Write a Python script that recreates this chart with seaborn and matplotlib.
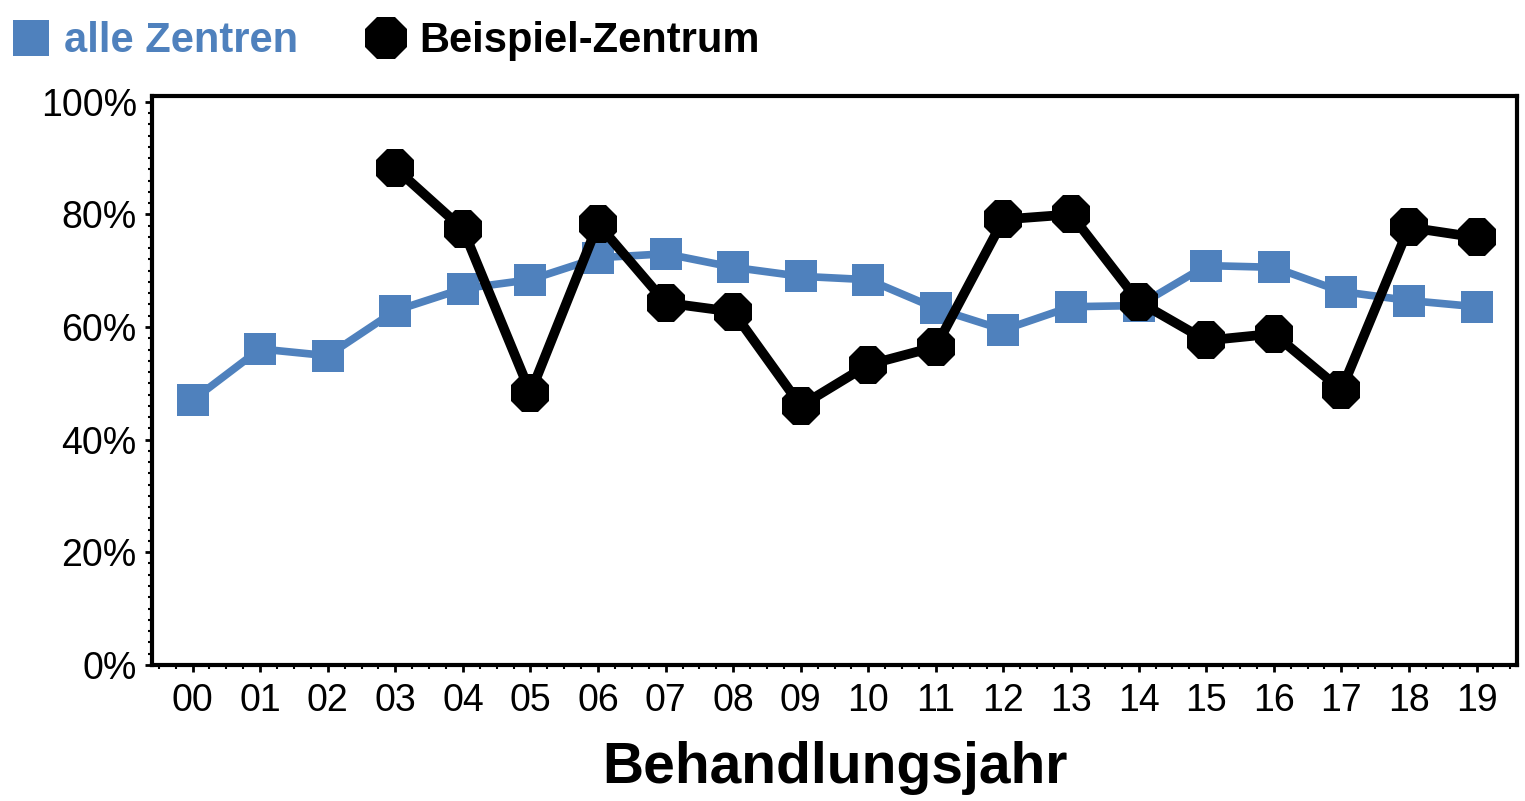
import numpy as np
import pandas as pd
import matplotlib
matplotlib.use("Agg")
import matplotlib.pyplot as plt
from matplotlib.lines import Line2D
from matplotlib.ticker import AutoMinorLocator, FixedLocator, PercentFormatter
import seaborn as sns

# ---------------------------------------------------------------------------
# data (in percent)
# ---------------------------------------------------------------------------
years = ["00", "01", "02", "03", "04", "05", "06", "07", "08", "09",
         "10", "11", "12", "13", "14", "15", "16", "17", "18", "19"]
alle_zentren = [47.0, 56.1, 54.9, 62.9, 66.8, 68.4, 72.3, 73.0, 70.6, 69.0,
                68.4, 63.3, 59.5, 63.6, 63.8, 70.9, 70.6, 66.3, 64.7, 63.6]
beispiel_zentrum = [np.nan, np.nan, np.nan, 88.2, 77.4, 48.3, 78.3, 64.3, 62.7, 46.0,
                    53.3, 56.5, 79.1, 80.0, 64.5, 57.6, 58.8, 48.8, 77.7, 75.9]
series_names = ["alle Zentren", "Beispiel-Zentrum"]
y_ticks = [0, 20, 40, 60, 80, 100]
x_label = "Behandlungsjahr"

BLUE = "#4F81BD"
BLACK = "#000000"

df = pd.DataFrame({
    "jahr": years,
    "pos": np.arange(len(years)),
    series_names[0]: alle_zentren,
    series_names[1]: beispiel_zentrum,
})

# ---------------------------------------------------------------------------
# styling
# ---------------------------------------------------------------------------
sns.set_theme(style="ticks")
plt.rcParams["font.family"] = ["Liberation Sans", "DejaVu Sans"]

fig, ax = plt.subplots(figsize=(15.25, 8.01), dpi=100)
fig.subplots_adjust(left=0.0997, right=0.9948, bottom=0.170, top=0.880)

sns.lineplot(data=df, x="pos", y=series_names[0], ax=ax, color=BLUE,
             linewidth=5.5, marker="s", markersize=23,
             markeredgecolor=BLUE, markeredgewidth=0, zorder=2)
sns.lineplot(data=df.dropna(), x="pos", y=series_names[1], ax=ax, color=BLACK,
             linewidth=7, marker="8", markersize=30,
             markeredgecolor=BLACK, markeredgewidth=0, zorder=3)

ax.set_xlim(-0.6, len(years) - 0.4)
ax.set_ylim(0, 101)

ax.xaxis.set_major_locator(FixedLocator(df["pos"].tolist()))
ax.set_xticklabels(years)
ax.xaxis.set_minor_locator(AutoMinorLocator(4))
ax.yaxis.set_major_locator(FixedLocator(y_ticks))
ax.yaxis.set_major_formatter(PercentFormatter(decimals=0))
ax.yaxis.set_minor_locator(AutoMinorLocator(10))

ax.tick_params(axis="both", which="major", direction="out", length=5,
               width=2, labelsize=27, color=BLACK, labelcolor=BLACK)
ax.tick_params(axis="both", which="minor", direction="out", length=3,
               width=1.5, color=BLACK)
ax.tick_params(axis="y", which="major", pad=6)
ax.tick_params(axis="x", which="major", pad=8)

for sp in ax.spines.values():
    sp.set_visible(True)
    sp.set_linewidth(3)
    sp.set_color(BLACK)

ax.set_ylabel("")
ax.set_xlabel(x_label, fontsize=41, fontweight="bold", color=BLACK,
              labelpad=16)

# legend at top left of the figure
handles = [
    Line2D([], [], color=BLUE, marker="s", linestyle="none", markersize=26,
           markeredgewidth=0),
    Line2D([], [], color=BLACK, marker="8", linestyle="none", markersize=32,
           markeredgewidth=0),
]
leg = fig.legend(handles, series_names, loc="upper left",
                 bbox_to_anchor=(-0.018, 1.02), ncol=2, frameon=False,
                 prop={"size": 30, "weight": "bold"},
                 handletextpad=0.3, columnspacing=1.6, handlelength=1.0)
for txt, c in zip(leg.get_texts(), [BLUE, BLACK]):
    txt.set_color(c)

fig.savefig("out.png", dpi=100)
